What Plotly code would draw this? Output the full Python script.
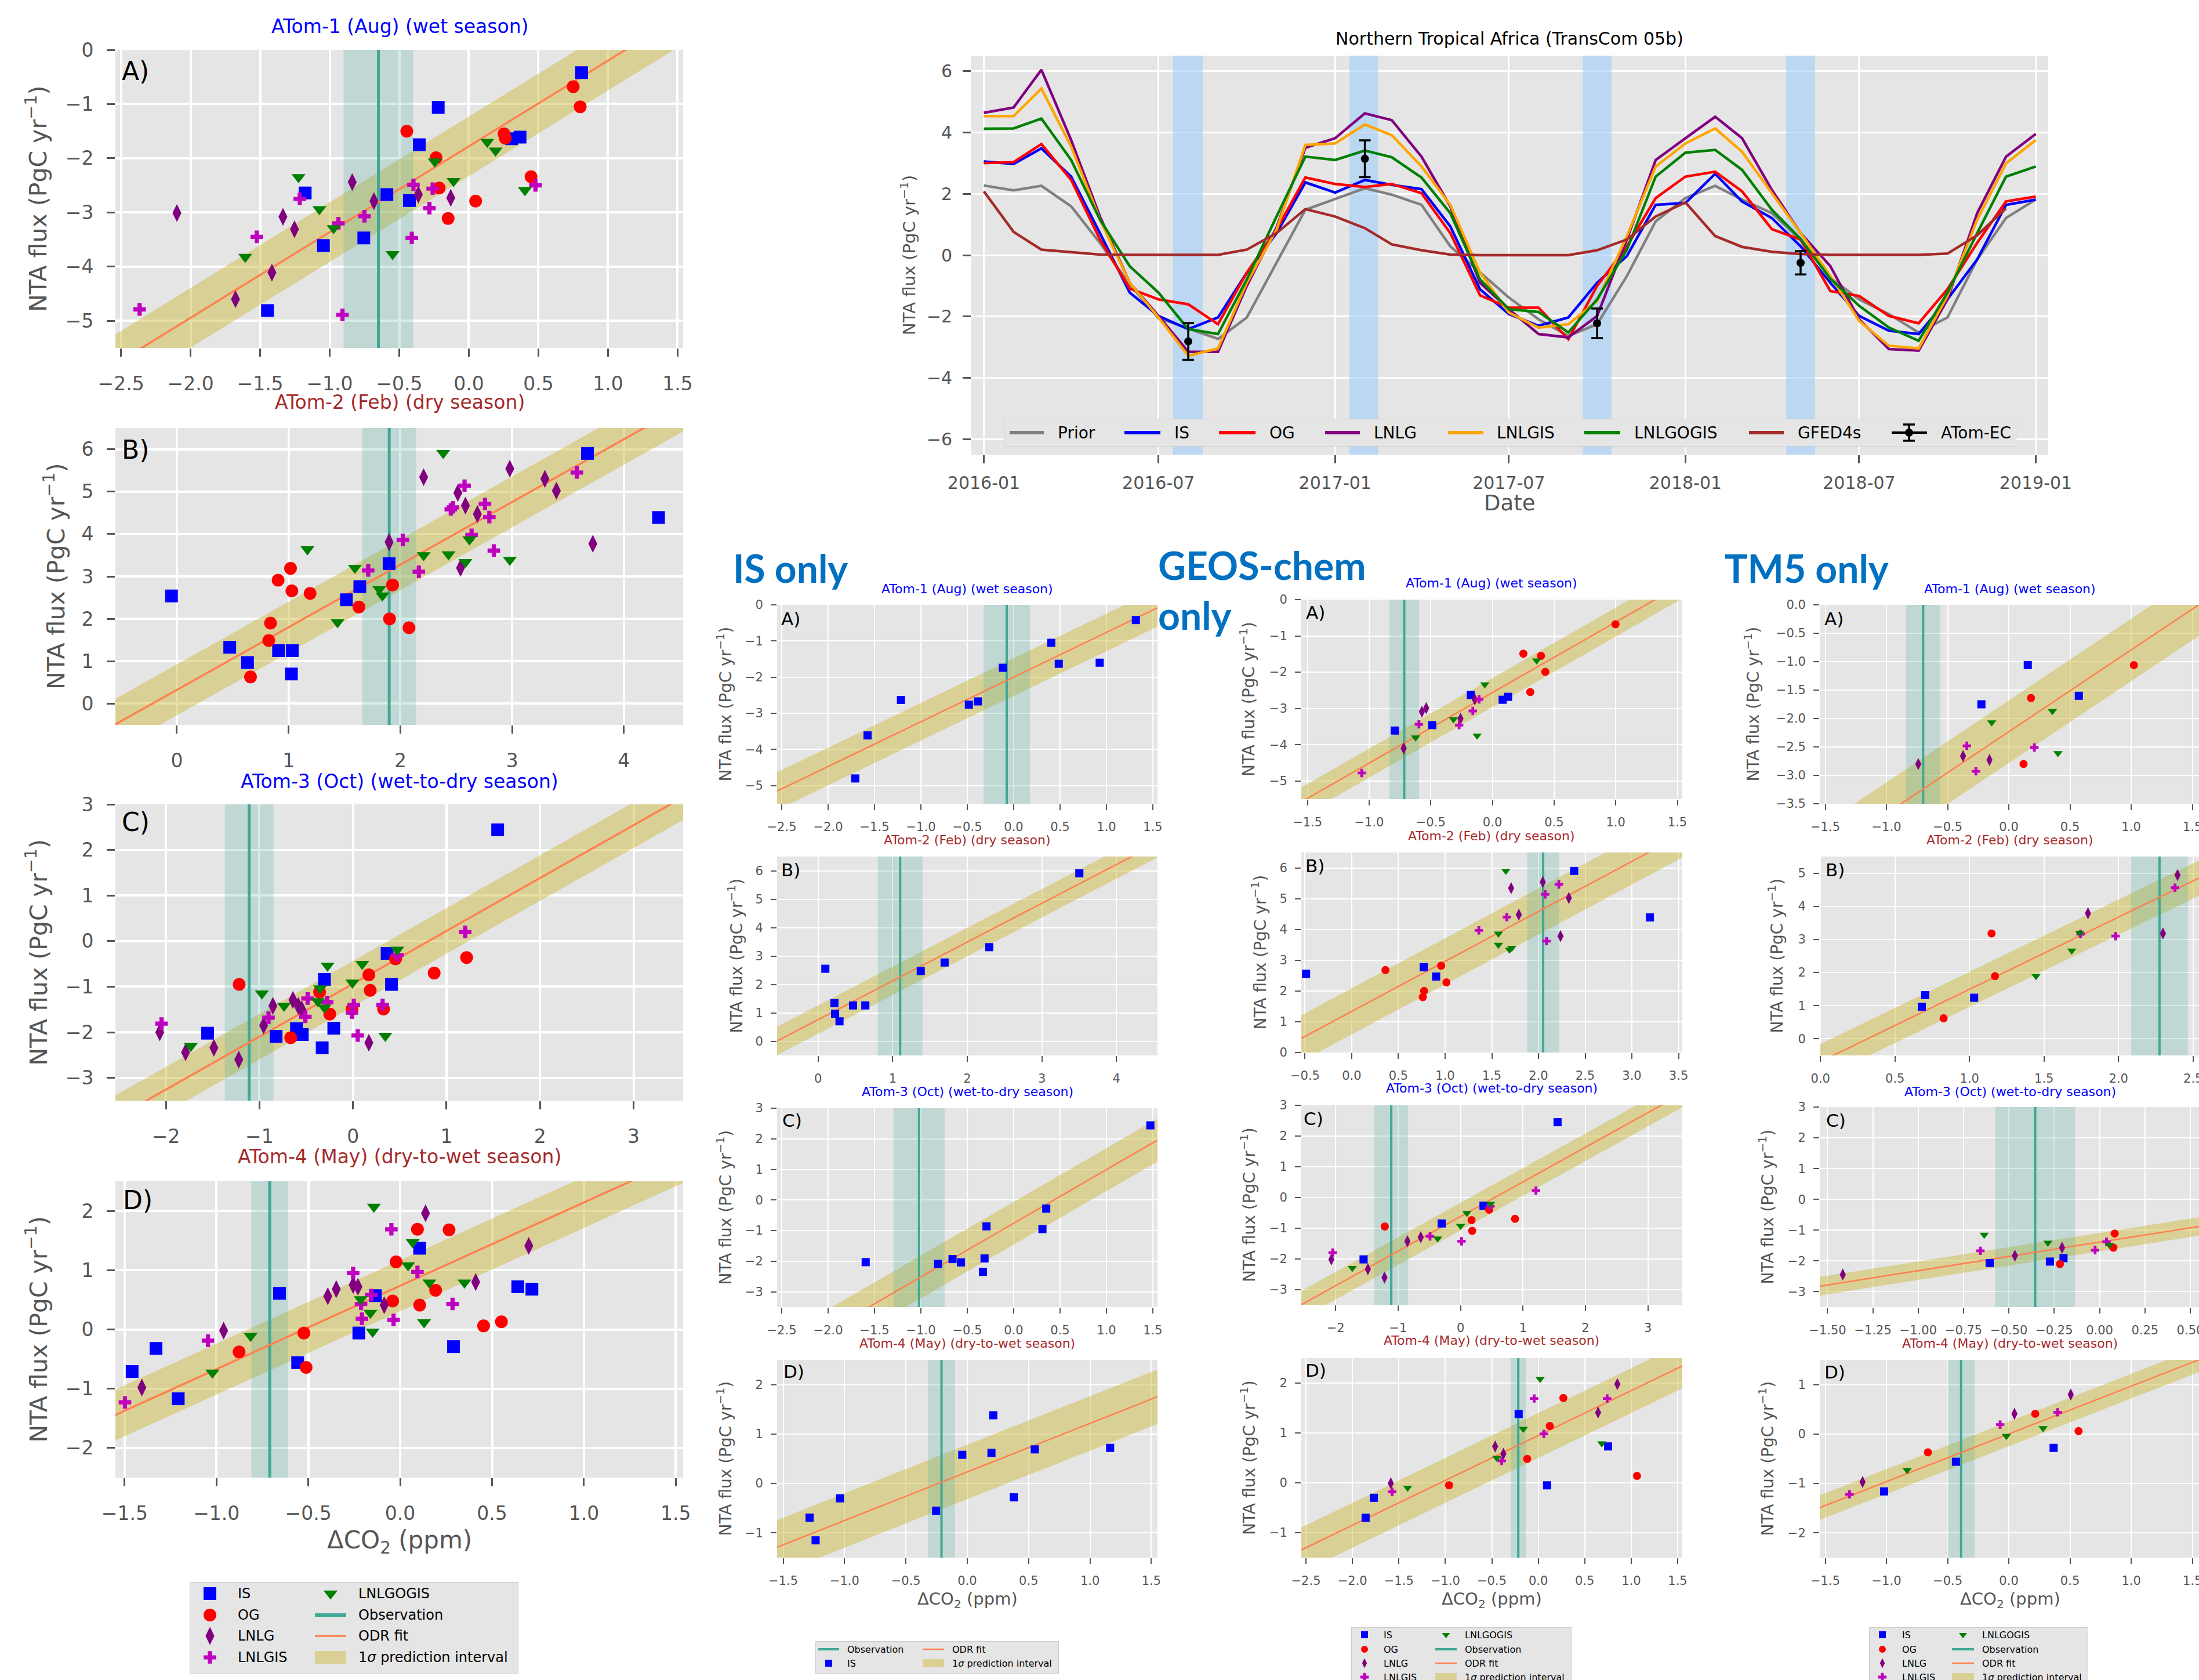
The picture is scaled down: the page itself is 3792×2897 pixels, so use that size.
import numpy as np
import pandas as pd
import plotly.graph_objects as go

W, H = 3792, 2897

# ============================ DATA ============================
# ---- time series (Northern Tropical Africa, monthly) ----
ts_dates = pd.date_range("2016-01-01", "2019-01-01", freq="MS")
prior = [2.27, 2.11, 2.26, 1.59, 0.40, -0.95, -2.05, -2.40, -2.73, -2.03, -0.25, 1.48, 1.83, 2.18, 1.97, 1.64,
         0.29, -0.57, -1.38, -2.09, -2.63, -2.25, -0.68, 1.10, 1.86, 2.26, 1.81, 1.37, 0.50, -0.74, -1.44, -1.92,
         -2.52, -2.03, -0.14, 1.21, 1.81]
ts_IS = [3.05, 2.97, 3.48, 2.56, 0.72, -1.22, -1.98, -2.41, -2.03, -0.57, 0.72, 2.37, 2.04, 2.45, 2.29, 2.15,
         0.94, -1.11, -1.92, -2.30, -2.03, -0.90, -0.03, 1.64, 1.70, 2.65, 1.75, 1.21, 0.29, -0.90, -1.98, -2.46,
         -2.57, -1.44, -0.14, 1.64, 1.81]
ts_OG = [3.00, 3.03, 3.62, 2.45, 0.51, -1.09, -1.44, -1.60, -2.25, -0.57, 0.83, 2.53, 2.32, 2.22, 2.32, 2.02,
         0.72, -1.31, -1.71, -1.71, -2.74, -1.00, 0.29, 1.86, 2.56, 2.72, 2.08, 0.85, 0.51, -1.17, -1.33, -1.98,
         -2.22, -1.11, 0.40, 1.75, 1.91]
ts_LNLG = [4.64, 4.81, 6.04, 3.75, 1.26, -0.90, -1.98, -3.15, -3.15, -1.00, 0.90, 3.50, 3.81, 4.62, 4.40, 3.21,
           1.59, -0.90, -1.76, -2.57, -2.68, -1.98, 0.51, 3.10, 3.81, 4.51, 3.81, 2.13, 0.72, -0.36, -2.09, -3.06,
           -3.11, -1.44, 1.37, 3.21, 3.95]
ts_LNLGIS = [4.53, 4.53, 5.43, 3.54, 1.16, -0.90, -2.03, -3.28, -3.04, -0.90, 0.83, 3.59, 3.64, 4.26, 3.91, 2.89,
             1.64, -0.57, -1.87, -2.36, -2.25, -1.50, 0.62, 2.89, 3.64, 4.13, 3.37, 2.02, 0.72, -0.68, -2.14, -2.95,
             -3.04, -1.33, 1.16, 2.99, 3.75]
ts_LNLGOGIS = [4.12, 4.13, 4.45, 3.10, 1.16, -0.36, -1.22, -2.41, -2.57, -0.79, 1.26, 3.21, 3.10, 3.41, 3.19, 2.53,
               1.37, -0.79, -1.76, -1.85, -2.52, -1.44, 0.18, 2.56, 3.34, 3.43, 2.78, 1.48, 0.53, -0.77, -1.65, -2.36,
               -2.79, -1.22, 0.72, 2.56, 2.89]
ts_GFED4s = [2.08, 0.76, 0.18, 0.10, 0.02, 0.01, 0.01, 0.01, 0.01, 0.18, 0.72, 1.50, 1.26, 0.88, 0.35, 0.16,
             0.02, 0.00, 0.00, 0.00, 0.00, 0.16, 0.51, 1.26, 1.72, 0.62, 0.27, 0.11, 0.04, 0.01, 0.01, 0.01,
             0.01, 0.05, 0.65, 1.53]
atom_dates = ["2016-08-01", "2017-02-01", "2017-10-01", "2018-05-01"]
atom_flux = [-2.81, 3.14, -2.22, -0.25]
atom_err = [0.60, 0.60, 0.48, 0.38]
atom_span_start = ["2016-07-16", "2017-01-16", "2017-09-16", "2018-04-16"]
atom_span_end = ["2016-08-16", "2017-02-15", "2017-10-16", "2018-05-16"]
ts_xticks = ["2016-01-01", "2016-07-01", "2017-01-01", "2017-07-01", "2018-01-01", "2018-07-01", "2019-01-01"]
ts_xlabels = ["2016-01", "2016-07", "2017-01", "2017-07", "2018-01", "2018-07", "2019-01"]
ts_yticks = [-6, -4, -2, 0, 2, 4, 6]

# ---- scatter panels: (dCO2, flux) pairs ----
# All models (large panels)
all_A_IS = [(0.81, -0.42), (-0.22, -1.06), (-0.356, -1.75), (0.307, -1.64), (0.368, -1.61), (-1.176, -2.64),
            (-0.589, -2.67), (-0.427, -2.78), (-1.045, -3.61), (-0.755, -3.47), (-1.447, -4.81)]
all_A_OG = [(-0.446, -1.50), (0.75, -0.68), (0.80, -1.05), (0.253, -1.55), (0.262, -1.63), (-0.235, -1.99),
            (-0.213, -2.55), (0.447, -2.34), (0.049, -2.79), (-0.149, -3.11)]
all_A_LNLG = [(-2.098, -3.01), (-0.838, -2.44), (-0.682, -2.79), (-0.363, -2.67), (-0.13, -2.73), (-1.336, -3.08),
              (-1.253, -3.31), (-1.415, -4.11), (-1.677, -4.60)]
all_A_LNLGIS = [(-2.366, -4.79), (-1.524, -3.45), (-1.215, -2.75), (-0.937, -3.20), (-0.75, -3.07), (-0.398, -2.49),
                (-0.26, -2.56), (-0.283, -2.92), (-0.41, -3.47), (-0.908, -4.89), (0.479, -2.50)]
all_A_LNLGOGIS = [(-1.224, -2.35), (-1.074, -2.94), (-0.972, -3.29), (-1.607, -3.82), (-0.548, -3.77),
                  (-0.245, -2.06), (-0.11, -2.42), (0.132, -1.70), (0.192, -1.86), (0.403, -2.59)]
all_B_IS = [(-0.048, 2.54), (0.473, 1.33), (0.632, 0.97), (0.91, 1.25), (1.033, 1.25), (1.025, 0.70), (1.517, 2.45),
            (1.637, 2.76), (1.899, 3.30), (3.674, 5.90), (4.31, 4.39)]
all_B_OG = [(1.017, 3.19), (0.906, 2.91), (1.029, 2.66), (1.192, 2.60), (0.838, 1.90), (0.822, 1.49), (0.659, 0.63),
            (1.629, 2.28), (1.93, 2.80), (1.903, 2.00), (2.077, 1.79)]
all_B_LNLG = [(2.208, 5.34), (2.979, 5.54), (2.514, 4.97), (2.582, 4.67), (2.689, 4.47), (3.293, 5.30),
              (3.396, 5.02), (1.899, 3.81), (2.538, 3.20), (3.722, 3.77)]
all_B_LNLGIS = [(2.574, 5.14), (2.451, 4.58), (2.47, 4.63), (2.757, 4.71), (2.796, 4.40), (2.637, 3.98),
                (2.022, 3.86), (2.836, 3.61), (1.712, 3.14), (2.165, 3.11), (3.579, 5.45)]
all_B_LNLGOGIS = [(2.383, 5.91), (1.168, 3.64), (1.593, 3.20), (1.811, 2.70), (1.839, 2.55), (1.438, 1.92),
                  (2.208, 3.50), (2.431, 3.52), (2.582, 3.34), (2.618, 3.87), (2.979, 3.39)]
all_C_IS = [(1.547, 2.44), (-1.554, -2.02), (-0.822, -2.09), (-0.604, -1.92), (-0.542, -2.05), (-0.205, -1.91),
            (-0.329, -2.34), (-0.305, -0.84), (0.365, -0.27), (0.412, -0.95)]
all_C_OG = [(-1.217, -0.95), (-0.666, -2.12), (-0.357, -1.12), (-0.248, -1.60), (-0.01, -1.49), (0.17, -0.74),
            (0.184, -1.08), (0.327, -1.49), (0.455, -0.39), (0.868, -0.70), (1.215, -0.36)]
all_C_LNLG = [(-2.066, -2.00), (-1.79, -2.44), (-1.487, -2.34), (-1.221, -2.60), (-0.955, -1.85), (-0.856, -1.42),
              (-0.642, -1.29), (-0.585, -1.42), (-0.547, -1.50), (0.17, -2.23)]
all_C_LNLGIS = [(-2.047, -1.81), (-0.903, -1.68), (-0.485, -1.26), (-0.509, -1.66), (-0.276, -1.34), (0.009, -1.40),
                (-0.01, -1.57), (0.051, -2.07), (0.317, -1.40), (0.474, -0.31), (1.20, 0.20)]
all_C_LNLGOGIS = [(-1.734, -2.30), (-0.974, -1.15), (-0.737, -1.42), (-0.272, -0.54), (-0.352, -1.04),
                  (-0.376, -1.32), (-0.305, -1.46), (-0.006, -0.91), (0.099, -0.50), (0.346, -2.08), (0.474, -0.19)]
all_D_IS = [(-1.459, -0.71), (-1.329, -0.32), (-1.208, -1.17), (-0.657, 0.61), (-0.558, -0.56), (-0.225, -0.06),
            (-0.135, 0.57), (0.106, 1.37), (0.29, -0.29), (0.64, 0.72), (0.717, 0.68)]
all_D_OG = [(-0.877, -0.38), (-0.524, -0.06), (-0.512, -0.64), (-0.041, 0.48), (-0.022, 1.14), (0.094, 1.69),
            (0.106, 0.41), (0.193, 0.66), (0.266, 1.68), (0.454, 0.06), (0.551, 0.13)]
all_D_LNLG = [(-1.406, -0.98), (-0.961, -0.02), (-0.394, 0.56), (-0.348, 0.68), (-0.256, 0.75), (-0.23, 0.72),
              (-0.087, 0.41), (0.138, 1.96), (0.411, 0.80), (0.70, 1.41)]
all_D_LNLGIS = [(-1.498, -1.23), (-1.046, -0.19), (-0.256, 0.95), (-0.213, 0.43), (-0.208, 0.18), (-0.157, 0.58),
                (-0.048, 1.69), (-0.036, 0.16), (0.094, 0.97), (0.285, 0.43)]
all_D_LNLGOGIS = [(-1.022, -0.73), (-0.814, -0.11), (-0.215, 0.51), (-0.162, 0.28), (-0.15, -0.04), (-0.143, 2.07),
                  (0.043, 1.08), (0.068, 1.47), (0.13, 0.12), (0.159, 0.79), (0.35, 0.79)]
obs_all = [-0.65, 1.90, -1.11, -0.71]
obs_err_all = [0.25, 0.24, 0.26, 0.10]
odr_slope_all = [1.582, 1.477, 1.160, 1.406]
odr_icpt_all = [-1.780, 0.326, -0.937, 0.737]
pi_all = [0.55, 0.60, 0.50, 0.43]

# IS only
is_A = [(-1.707, -4.80), (-1.575, -3.61), (-1.215, -2.63), (-0.483, -2.76), (-0.385, -2.67), (-0.117, -1.74),
        (0.405, -1.05), (0.486, -1.63), (0.927, -1.60), (1.317, -0.42)]
is_B = [(0.097, 2.55), (0.219, 1.34), (0.228, 0.97), (0.287, 0.70), (0.468, 1.26), (0.633, 1.26), (1.376, 2.47),
        (1.696, 2.77), (2.295, 3.31), (3.502, 5.91)]
is_C = [(-1.595, -2.03), (-0.815, -2.09), (-0.659, -1.93), (-0.568, -2.04), (-0.314, -1.91), (-0.331, -2.35),
        (-0.293, -0.86), (0.31, -0.95), (0.351, -0.28), (1.473, 2.44)]
is_D = [(-1.285, -0.69), (-1.236, -1.15), (-1.037, -0.30), (-0.254, -0.55), (-0.041, 0.58), (0.197, 0.62),
        (0.212, 1.38), (0.379, -0.28), (0.55, 0.69), (1.164, 0.72)]
obs_is = [-0.075, 1.10, -1.02, -0.21]
obs_err_is = [0.25, 0.30, 0.275, 0.11]
odr_slope_is = [1.236, 1.365, 1.754, 0.982]
odr_icpt_is = [-1.997, 0.760, -0.760, 0.233]
pi_is = [0.52, 0.50, 0.70, 0.55]

# GEOS-chem only
gc_A_IS = [(-0.791, -3.61), (-0.488, -3.46), (-0.175, -2.63), (0.083, -2.76), (0.127, -2.68)]
gc_A_OG = [(0.251, -1.49), (0.394, -1.55), (0.429, -1.99), (0.307, -2.55), (0.998, -0.68)]
gc_A_LNLG = [(-0.572, -3.09), (-0.537, -2.99), (-0.72, -4.10), (-0.259, -3.28), (-0.143, -2.75)]
gc_A_LNLGIS = [(-1.06, -4.78), (-0.596, -3.44), (-0.27, -3.46), (-0.159, -3.07), (-0.108, -2.75)]
gc_A_LNLGOGIS = [(-0.623, -3.80), (-0.316, -3.30), (-0.124, -3.75), (-0.062, -2.34), (0.359, -1.68)]
gc_B_IS = [(-0.489, 2.56), (0.771, 2.77), (0.904, 2.47), (2.382, 5.90), (3.193, 4.39)]
gc_B_OG = [(0.361, 2.68), (0.775, 2.00), (0.761, 1.80), (0.957, 2.82), (1.014, 2.28)]
gc_B_LNLG = [(1.707, 5.34), (2.046, 5.54), (1.789, 4.48), (2.325, 5.02), (2.236, 3.78)]
gc_B_LNLGIS = [(1.361, 3.97), (1.661, 4.40), (2.071, 5.14), (2.218, 5.46), (2.086, 3.62)]
gc_B_LNLGOGIS = [(1.65, 5.90), (1.571, 3.86), (1.571, 3.50), (1.689, 3.34), (1.714, 3.40)]
gc_C_IS = [(-1.553, -2.02), (-0.303, -0.85), (0.367, -0.27), (1.553, 2.45)]
gc_C_OG = [(-1.213, -0.95), (0.176, -0.74), (0.186, -1.09), (0.457, -0.40), (0.872, -0.70)]
gc_C_LNLG = [(-2.069, -2.02), (-1.484, -2.34), (-1.218, -2.61), (-0.851, -1.43), (-0.638, -1.30)]
gc_C_LNLGIS = [(-2.048, -1.80), (-0.489, -1.27), (0.016, -1.43), (0.479, -0.29), (1.207, 0.22)]
gc_C_LNLGOGIS = [(-1.734, -2.30), (-0.367, -1.34), (0.0, -0.93), (0.101, -0.51), (0.479, -0.21)]
gc_D_IS = [(-1.858, -0.70), (-1.769, -0.30), (-0.211, 1.38), (0.095, -0.05), (0.751, 0.73)]
gc_D_OG = [(-0.96, -0.05), (-0.119, 0.48), (0.124, 1.14), (0.27, 1.70), (1.062, 0.14)]
gc_D_LNLG = [(-1.587, -0.01), (-0.464, 0.73), (-0.375, 0.58), (0.644, 1.41), (0.851, 1.98)]
gc_D_LNLGIS = [(-1.573, -0.18), (-0.393, 0.44), (-0.044, 1.69), (0.06, 0.98), (0.741, 1.69)]
gc_D_LNLGOGIS = [(-1.406, -0.10), (-0.447, 0.50), (-0.161, 1.08), (0.02, 2.08), (0.684, 0.79)]
obs_gc = [-0.715, 2.05, -1.11, -0.215]
obs_err_gc = [0.12, 0.17, 0.27, 0.08]
odr_slope_gc = [1.944, 1.624, 1.128, 0.900]
odr_icpt_gc = [-2.564, 1.338, -0.622, 0.949]
pi_gc = [0.40, 0.75, 0.45, 0.45]

# TM5 only
tm_A_IS = [(-0.224, -1.75), (0.155, -1.06), (0.572, -1.60)]
tm_A_OG = [(0.181, -1.64), (0.12, -2.80), (1.022, -1.06)]
tm_A_LNLG = [(-0.74, -2.80), (-0.374, -2.66), (-0.158, -2.73)]
tm_A_LNLGIS = [(-0.343, -2.48), (-0.269, -2.93), (0.209, -2.51)]
tm_A_LNLGOGIS = [(-0.14, -2.07), (0.356, -1.87), (0.402, -2.61)]
tm_B_IS = [(0.68, 0.97), (0.703, 1.32), (1.031, 1.24)]
tm_B_OG = [(0.826, 0.62), (1.148, 3.18), (1.171, 1.89)]
tm_B_LNLG = [(1.795, 3.79), (2.298, 3.18), (2.396, 4.94)]
tm_B_LNLGIS = [(1.745, 3.16), (1.98, 3.10), (2.379, 4.56)]
tm_B_LNLGOGIS = [(1.446, 1.89), (1.686, 2.66), (1.740, 3.20)]
tm_C_IS = [(-0.606, -2.07), (-0.274, -2.02), (-0.199, -1.91)]
tm_C_OG = [(-0.219, -2.10), (0.083, -1.11), (0.076, -1.57)]
tm_C_LNLG = [(-1.416, -2.44), (-0.467, -1.83), (-0.207, -1.57)]
tm_C_LNLGIS = [(-0.657, -1.67), (-0.025, -1.65), (0.038, -1.38)]
tm_C_LNLGOGIS = [(-0.636, -1.15), (-0.285, -1.41), (0.054, -1.48)]
tm_D_IS = [(-1.019, -1.16), (-0.432, -0.56), (0.366, -0.28)]
tm_D_OG = [(-0.661, -0.37), (0.216, 0.41), (0.57, 0.06)]
tm_D_LNLG = [(-1.195, -0.97), (0.046, 0.41), (0.506, 0.80)]
tm_D_LNLGIS = [(-1.302, -1.22), (-0.071, 0.19), (0.399, 0.44)]
tm_D_LNLGOGIS = [(-0.831, -0.73), (-0.02, -0.04), (0.28, 0.12)]
obs_tm = [-0.70, 2.275, -0.355, -0.39]
obs_err_tm = [0.14, 0.19, 0.22, 0.11]
odr_slope_tm = [1.440, 2.180, 0.929, 0.965]
odr_icpt_tm = [-2.233, -0.686, -1.388, 0.003]
pi_tm = [0.55, 0.53, 0.30, 0.25]

# tick sets
XT_wide = [-2.5, -2.0, -1.5, -1.0, -0.5, 0.0, 0.5, 1.0, 1.5]
XT_narrow = [-1.5, -1.0, -0.5, 0.0, 0.5, 1.0, 1.5]
XT_B = [0, 1, 2, 3, 4]
XT_C = [-2, -1, 0, 1, 2, 3]
XT_gc_B = [-0.5, 0.0, 0.5, 1.0, 1.5, 2.0, 2.5, 3.0, 3.5]
XT_tm_B = [0.0, 0.5, 1.0, 1.5, 2.0, 2.5]
XT_tm_C = [-1.5, -1.25, -1.0, -0.75, -0.5, -0.25, 0.0, 0.25, 0.5]
YT_A = [-5, -4, -3, -2, -1, 0]
YT_tm_A = [-3.5, -3.0, -2.5, -2.0, -1.5, -1.0, -0.5, 0.0]
YT_B = [0, 1, 2, 3, 4, 5, 6]
YT_tm_B = [0, 1, 2, 3, 4, 5]
YT_C = [-3, -2, -1, 0, 1, 2, 3]
YT_D_all = [-2, -1, 0, 1, 2]
YT_D_small = [-1, 0, 1, 2]
YT_tm_D = [-2, -1, 0, 1]

# ============================ STYLE ============================
FONT = "DejaVu Sans"
TXT = "#555555"
BG = "#E5E5E5"
TITLE_BLUE = "#0000FF"
TITLE_BROWN = "#A52A2A"
HEAD_BLUE = "#0070C0"
OBS_C = "#40A896"
SPAN_C = "rgba(64,168,150,0.22)"
ODR_C = "#FF7F50"
BAND_C = "rgba(202,182,53,0.45)"
MODELS = ["IS", "OG", "LNLG", "LNLGIS", "LNLGOGIS"]
COLORS = {"IS": "#0000FF", "OG": "#FF0000", "LNLG": "#800080", "LNLGIS": "#BF00BF", "LNLGOGIS": "#008000"}
SYMBOLS = {"IS": "square", "OG": "circle", "LNLG": "diamond-tall", "LNLGIS": "cross", "LNLGOGIS": "triangle-down"}
SIZE_BIG = {"IS": 22, "OG": 22, "LNLG": 22, "LNLGIS": 18, "LNLGOGIS": 21}
SIZE_SMALL = {"IS": 14, "OG": 14, "LNLG": 15, "LNLGIS": 12, "LNLGOGIS": 14}
TS_STYLE = [("Prior", prior, "#808080"), ("IS", ts_IS, "#0000FF"), ("OG", ts_OG, "#FF0000"),
            ("LNLG", ts_LNLG, "#800080"), ("LNLGIS", ts_LNLGIS, "#FFA500"),
            ("LNLGOGIS", ts_LNLGOGIS, "#008000"), ("GFED4s", ts_GFED4s, "#A52A2A")]

fig = go.Figure()
lay = {}
annotations = []
shapes = []


def fmt_ticks(vals, dec):
    return [f"{v:.{dec}f}".replace("-", "\u2212") for v in vals]


def px(x):
    return x / W


def py(y):
    return 1 - y / H


def ann(text, x, y, size, color, xanchor="center", yanchor="middle", angle=0, family=FONT, align="center"):
    annotations.append(dict(text=text, x=px(x), y=py(y), xref="paper", yref="paper", showarrow=False,
                            font=dict(family=family, size=size, color=color), xanchor=xanchor,
                            yanchor=yanchor, textangle=angle, align=align))


def make_axes(n, box, xr, yr, xt, xd, yt, yd, big):
    s = "" if n == 1 else str(n)
    x0, x1, y0, y1 = box
    base = dict(showgrid=True, gridcolor="white", gridwidth=3.5 if big else 2, zeroline=False,
                showline=False, ticks="outside", ticklen=14 if big else 10, tickwidth=3 if big else 2,
                tickcolor=TXT, tickfont=dict(family=FONT, size=33 if big else 21, color=TXT),
                tickmode="array", fixedrange=True, ticklabeloverflow="allow", automargin=False)
    lay["xaxis" + s] = dict(base, domain=[px(x0), min(px(x1), 1.0)], range=xr, anchor="y" + s,
                            tickvals=xt, ticktext=fmt_ticks(xt, xd), ticklabelstandoff=18 if big else 11)
    lay["yaxis" + s] = dict(base, domain=[py(y1), py(y0)], range=yr, anchor="x" + s,
                            tickvals=yt, ticktext=fmt_ticks(yt, yd), ticklabelstandoff=16 if big else 9)
    return "x" + s, "y" + s


def scatter_panel(n, box, xr, yr, xt, xd, yt, yd, big, series, obs, oerr, slope, icpt, hw):
    xa, ya = make_axes(n, box, xr, yr, xt, xd, yt, yd, big)
    xs = np.array(xr, dtype=float)
    yl = icpt + slope * xs
    common = dict(xaxis=xa, yaxis=ya, hoverinfo="skip", showlegend=False)
    fig.add_trace(go.Scatter(x=[xs[0], xs[1], xs[1], xs[0], xs[0]],
                             y=[yl[0] + hw, yl[1] + hw, yl[1] - hw, yl[0] - hw, yl[0] + hw],
                             mode="lines", fill="toself", fillcolor=BAND_C, line=dict(width=0), **common))
    fig.add_trace(go.Scatter(x=[obs - oerr, obs + oerr, obs + oerr, obs - oerr, obs - oerr],
                             y=[yr[0], yr[0], yr[1], yr[1], yr[0]],
                             mode="lines", fill="toself", fillcolor=SPAN_C, line=dict(width=0), **common))
    fig.add_trace(go.Scatter(x=[obs, obs], y=list(yr), mode="lines",
                             line=dict(color=OBS_C, width=5 if big else 4), **common))
    fig.add_trace(go.Scatter(x=list(xs), y=list(yl), mode="lines",
                             line=dict(color=ODR_C, width=3.5 if big else 2.5), **common))
    sizes = SIZE_BIG if big else SIZE_SMALL
    for m, pts in zip(MODELS, series):
        if not pts:
            continue
        fig.add_trace(go.Scatter(x=[p[0] for p in pts], y=[p[1] for p in pts], mode="markers",
                                 marker=dict(symbol=SYMBOLS[m], color=COLORS[m], size=sizes[m],
                                             line=dict(width=0)), **common))


YLAB = "NTA flux (PgC yr<sup>\u22121</sup>)"
T_A = "ATom-1 (Aug) (wet season)"
X_TITLES = ["ATom-2 (Feb) (dry season)", "ATom-3 (Oct) (wet-to-dry season)",
            "ATom-4 (May) (dry-to-wet season)", "\u0394CO<sub>2</sub> (ppm)"]
X_COLORS = [TITLE_BROWN, TITLE_BLUE, TITLE_BROWN, TXT]
LETTERS = ["A)", "B)", "C)", "D)"]

# ----------------- large "all models" column -----------------
big_boxes = [(199, 1178, 86, 600), (199, 1178, 738, 1250), (199, 1178, 1387, 1898), (199, 1178, 2037, 2548)]
big_x = [[-2.54, 1.54], [-0.55, 4.53], [-2.54, 3.53], [-1.55, 1.54]]
big_y = [[-5.5, 0], [-0.5, 6.5], [-3.5, 3.0], [-2.5, 2.5]]
big_xt = [(XT_wide, 1), (XT_B, 0), (XT_C, 0), (XT_narrow, 1)]
big_yt = [(YT_A, 0), (YT_B, 0), (YT_C, 0), (YT_D_all, 0)]
big_series = [[all_A_IS, all_A_OG, all_A_LNLG, all_A_LNLGIS, all_A_LNLGOGIS],
              [all_B_IS, all_B_OG, all_B_LNLG, all_B_LNLGIS, all_B_LNLGOGIS],
              [all_C_IS, all_C_OG, all_C_LNLG, all_C_LNLGIS, all_C_LNLGOGIS],
              [all_D_IS, all_D_OG, all_D_LNLG, all_D_LNLGIS, all_D_LNLGOGIS]]
for i in range(4):
    scatter_panel(1 + i, big_boxes[i], big_x[i], big_y[i], big_xt[i][0], big_xt[i][1], big_yt[i][0],
                  big_yt[i][1], True, big_series[i], obs_all[i], obs_err_all[i], odr_slope_all[i],
                  odr_icpt_all[i], pi_all[i])
ann(T_A, 689, 45, 33, TITLE_BLUE)
for i, yy in enumerate([694, 1347, 1994, 2658]):
    ann(X_TITLES[i], 689, yy, 42 if i == 3 else 33, X_COLORS[i])
for i, xx in enumerate([63, 94, 63, 63]):
    b = big_boxes[i]
    ann(YLAB, xx, (b[2] + b[3]) / 2, 41, TXT, angle=-90)
for i, (lx, ly) in enumerate([(208, 123), (208, 775), (208, 1418), (210, 2069)]):
    ann(LETTERS[i], lx, ly, 44, "black", xanchor="left")

# ----------------- time series -----------------
lay["xaxis5"] = dict(type="date", domain=[px(1675), px(3532)], range=["2015-12-19", "2019-01-14"], anchor="y5",
                     tickmode="array", tickvals=ts_xticks, ticktext=ts_xlabels, showgrid=True, gridcolor="white",
                     gridwidth=2.5, zeroline=False, showline=False, ticks="outside", ticklen=14, tickwidth=3,
                     tickcolor=TXT, tickfont=dict(family=FONT, size=30, color=TXT), ticklabelstandoff=8,
                     fixedrange=True, automargin=False)
lay["yaxis5"] = dict(domain=[py(784), py(96)], range=[-6.5, 6.5], anchor="x5", tickmode="array",
                     tickvals=ts_yticks, ticktext=fmt_ticks(ts_yticks, 0), showgrid=True, gridcolor="white",
                     gridwidth=2.5, zeroline=False, showline=False, ticks="outside", ticklen=14, tickwidth=3,
                     tickcolor=TXT, tickfont=dict(family=FONT, size=30, color=TXT), ticklabelstandoff=12,
                     fixedrange=True, automargin=False)
for s0, s1 in zip(atom_span_start, atom_span_end):
    fig.add_trace(go.Scatter(x=[s0, s1, s1, s0, s0], y=[-6.5, -6.5, 6.5, 6.5, -6.5], mode="lines", fill="toself",
                             fillcolor="rgba(160,205,250,0.6)", line=dict(width=0), xaxis="x5", yaxis="y5",
                             hoverinfo="skip", showlegend=False))
for name, vals, col in TS_STYLE:
    fig.add_trace(go.Scatter(x=ts_dates[:len(vals)], y=vals, mode="lines", name=name,
                             line=dict(color=col, width=4.5), xaxis="x5", yaxis="y5", showlegend=False))
fig.add_trace(go.Scatter(x=atom_dates, y=atom_flux, mode="markers", name="ATom-EC",
                         marker=dict(color="black", size=14),
                         error_y=dict(type="data", array=atom_err, color="black", thickness=3.5, width=10),
                         xaxis="x5", yaxis="y5", showlegend=False))
ann("Northern Tropical Africa (TransCom 05b)", 2603, 66, 30, "black")
ann(YLAB, 1566, 440, 29, TXT, angle=-90)
ann("Date", 2603, 867, 37, TXT)


# ----------------- small columns -----------------
def small_column(n0, x0, x1, tops, xranges, yranges, xts, yts, series, obs, oerr, slope, icpt, hw,
                 cx, title_y, xt_y, ylab_x, letters):
    for i in range(4):
        box = (x0, x1, tops[i][0], tops[i][1])
        scatter_panel(n0 + i, box, xranges[i], yranges[i], xts[i][0], xts[i][1], yts[i][0], yts[i][1], False,
                      series[i], obs[i], oerr[i], slope[i], icpt[i], hw[i])
        ann(X_TITLES[i], cx, xt_y[i], 29 if i == 3 else 22, X_COLORS[i])
        ann(YLAB, ylab_x[i], (tops[i][0] + tops[i][1]) / 2, 28, TXT, angle=-90)
        ann(LETTERS[i], letters[i][0], letters[i][1], 31, "black", xanchor="left")
    ann(T_A, cx, title_y, 22, TITLE_BLUE)


small_column(6, 1340, 1996, [(1043, 1386), (1477, 1820), (1911, 2254), (2345, 2686)],
             [[-2.55, 1.55], [-0.55, 4.55], [-2.55, 1.55], [-1.55, 1.55]],
             [[-5.5, 0], [-0.5, 6.5], [-3.5, 3.0], [-1.5, 2.5]],
             [(XT_wide, 1), (XT_B, 0), (XT_wide, 1), (XT_narrow, 1)],
             [(YT_A, 0), (YT_B, 0), (YT_C, 0), (YT_D_small, 0)],
             [[is_A, [], [], [], []], [is_B, [], [], [], []], [is_C, [], [], [], []], [is_D, [], [], [], []]],
             obs_is, obs_err_is, odr_slope_is, odr_icpt_is, pi_is,
             1668, 1015, [1448, 1882, 2316, 2759], [1250, 1269, 1250, 1250],
             [(1345, 1067), (1345, 1500), (1347, 1932), (1349, 2365)])

small_column(10, 2244, 2901, [(1034, 1378), (1470, 1815), (1906, 2250), (2342, 2686)],
             [[-1.55, 1.54], [-0.54, 3.54], [-2.55, 3.55], [-2.55, 1.55]],
             [[-5.5, 0], [0, 6.5], [-3.5, 3.0], [-1.5, 2.5]],
             [(XT_narrow, 1), (XT_gc_B, 1), (XT_C, 0), (XT_wide, 1)],
             [(YT_A, 0), (YT_B, 0), (YT_C, 0), (YT_D_small, 0)],
             [[gc_A_IS, gc_A_OG, gc_A_LNLG, gc_A_LNLGIS, gc_A_LNLGOGIS],
              [gc_B_IS, gc_B_OG, gc_B_LNLG, gc_B_LNLGIS, gc_B_LNLGOGIS],
              [gc_C_IS, gc_C_OG, gc_C_LNLG, gc_C_LNLGIS, gc_C_LNLGOGIS],
              [gc_D_IS, gc_D_OG, gc_D_LNLG, gc_D_LNLGIS, gc_D_LNLGOGIS]],
             obs_gc, obs_err_gc, odr_slope_gc, odr_icpt_gc, pi_gc,
             2572, 1005, [1441, 1876, 2311, 2759], [2152, 2172, 2152, 2152],
             [(2250, 1056), (2249, 1493), (2246, 1929), (2249, 2363)])

small_column(14, 3138, 3792, [(1043, 1386), (1477, 1820), (1909, 2254), (2345, 2686)],
             [[-1.545, 1.554], [-0.005, 2.54], [-1.543, 0.548], [-1.545, 1.554]],
             [[-3.5, 0], [-0.5, 5.5], [-3.5, 3.0], [-2.5, 1.5]],
             [(XT_narrow, 1), (XT_tm_B, 1), (XT_tm_C, 2), (XT_narrow, 1)],
             [(YT_tm_A, 1), (YT_tm_B, 0), (YT_C, 0), (YT_tm_D, 0)],
             [[tm_A_IS, tm_A_OG, tm_A_LNLG, tm_A_LNLGIS, tm_A_LNLGOGIS],
              [tm_B_IS, tm_B_OG, tm_B_LNLG, tm_B_LNLGIS, tm_B_LNLGOGIS],
              [tm_C_IS, tm_C_OG, tm_C_LNLG, tm_C_LNLGIS, tm_C_LNLGOGIS],
              [tm_D_IS, tm_D_OG, tm_D_LNLG, tm_D_LNLGIS, tm_D_LNLGOGIS]],
             obs_tm, obs_err_tm, odr_slope_tm, odr_icpt_tm, pi_tm,
             3466, 1015, [1448, 1882, 2316, 2759], [3022, 3063, 3047, 3047],
             [(3144, 1067), (3146, 1500), (3147, 1932), (3144, 2366)])

# column headers
ann("<b>IS only</b>", 1262, 980, 66, HEAD_BLUE, xanchor="left", family="Lato", align="left")
ann("<b>GEOS-chem<br>only</b>", 1995, 1018, 66, HEAD_BLUE, xanchor="left", family="Lato", align="left")
ann("<b>TM5 only</b>", 2972, 980, 66, HEAD_BLUE, xanchor="left", family="Lato", align="left")


# ----------------- legends (drawn on pixel-space helper axes) -----------------
def legend_axes(n, x0, x1, y0, y1):
    s = str(n)
    yb = min(y1, H)
    lay["xaxis" + s] = dict(domain=[px(x0), px(x1)], range=[x0, x1], visible=False, fixedrange=True,
                            anchor="y" + s, automargin=False)
    lay["yaxis" + s] = dict(domain=[py(yb), py(y0)], range=[yb, y0], visible=False, fixedrange=True,
                            anchor="x" + s, automargin=False)
    shapes.append(dict(type="rect", xref="x" + s, yref="y" + s, x0=x0, x1=x1, y0=y0, y1=y1, layer="below",
                       fillcolor=BG, line=dict(color="#CCCCCC", width=2)))
    return "x" + s, "y" + s


def lg_marker(ax, m, x, y, size):
    fig.add_trace(go.Scatter(x=[x], y=[y], mode="markers", xaxis=ax[0], yaxis=ax[1], hoverinfo="skip",
                             showlegend=False, marker=dict(symbol=SYMBOLS[m], color=COLORS[m], size=size)))


def lg_line(ax, xa_, xb_, y, color, width):
    fig.add_trace(go.Scatter(x=[xa_, xb_], y=[y, y], mode="lines", xaxis=ax[0], yaxis=ax[1], hoverinfo="skip",
                             showlegend=False, line=dict(color=color, width=width)))


def lg_patch(ax, xa_, xb_, y, hh):
    fig.add_trace(go.Scatter(x=[xa_, xb_, xb_, xa_, xa_], y=[y - hh, y - hh, y + hh, y + hh, y - hh],
                             mode="lines", fill="toself", fillcolor=BAND_C, line=dict(width=0),
                             xaxis=ax[0], yaxis=ax[1], hoverinfo="skip", showlegend=False))


def lg_text(text, x, y, size):
    ann(text, x, y, size, "black", xanchor="left", align="left")


# big legend
axL = legend_axes(18, 327, 894, 2728, 2887)
rows = [2748, 2785, 2821, 2858]
for m, r in zip(MODELS[:4], rows):
    lg_marker(axL, m, 362, r, SIZE_BIG[m])
    lg_text(m, 408, r, 24)
lg_marker(axL, "LNLGOGIS", 570, rows[0], SIZE_BIG["LNLGOGIS"])
lg_text("LNLGOGIS", 616, rows[0], 24)
lg_line(axL, 543, 597, rows[1], OBS_C, 6)
lg_text("Observation", 616, rows[1], 24)
lg_line(axL, 543, 597, rows[2], ODR_C, 3.5)
lg_text("ODR fit", 616, rows[2], 24)
lg_patch(axL, 543, 597, rows[3], 11)
lg_text("1<i>\u03c3</i> prediction interval", 616, rows[3], 24)

# time series legend
axT = legend_axes(19, 1731, 3477, 722, 770)
ts_leg = [(1741, 1800, 1822), (1939, 2001, 2023), (2102, 2165, 2187), (2285, 2345, 2367),
          (2497, 2558, 2579), (2732, 2794, 2816), (3016, 3076, 3098)]
for (name, vals, col), (g0, g1, tx) in zip(TS_STYLE, ts_leg):
    lg_line(axT, g0, g1, 746, col, 6)
    lg_text(name, tx, 746, 28)
lg_line(axT, 3262, 3323, 746, "black", 4)
fig.add_trace(go.Scatter(x=[3292], y=[746], mode="markers", xaxis=axT[0], yaxis=axT[1], hoverinfo="skip",
                         showlegend=False, marker=dict(color="black", size=14),
                         error_y=dict(type="constant", value=14, color="black", thickness=3.5, width=10)))
lg_text("ATom-EC", 3345, 746, 28)

# IS legend
axI = legend_axes(20, 1406, 1826, 2830, 2886)
lg_line(axI, 1411, 1447, 2844, OBS_C, 4)
lg_text("Observation", 1459, 2844, 16)
lg_marker(axI, "IS", 1429, 2868, 12)
lg_text("IS", 1459, 2868, 16)
lg_line(axI, 1591, 1628, 2844, ODR_C, 2.5)
lg_text("ODR fit", 1640, 2844, 16)
lg_patch(axI, 1591, 1628, 2868, 7)
lg_text("1<i>\u03c3</i> prediction interval", 1640, 2868, 16)


def model_legend(n, x0, x1, c1, t1, g0, g1, t2):
    ax = legend_axes(n, x0, x1, 2806, 2912)
    rr = [2819, 2844, 2868, 2892]
    for m, r in zip(MODELS[:4], rr):
        lg_marker(ax, m, c1, r, 12)
        lg_text(m, t1, r, 16)
    lg_marker(ax, "LNLGOGIS", (g0 + g1) / 2, rr[0], 12)
    lg_text("LNLGOGIS", t2, rr[0], 16)
    lg_line(ax, g0, g1, rr[1], OBS_C, 4)
    lg_text("Observation", t2, rr[1], 16)
    lg_line(ax, g0, g1, rr[2], ODR_C, 2.5)
    lg_text("ODR fit", t2, rr[2], 16)
    lg_patch(ax, g0, g1, rr[3], 7)
    lg_text("1<i>\u03c3</i> prediction interval", t2, rr[3], 16)


model_legend(21, 2330, 2710, 2353, 2384, 2475, 2512, 2524)
model_legend(22, 3223, 3601, 3246, 3278, 3366, 3404, 3416)

fig.update_layout(template="none", width=W, height=H, margin=dict(l=0, r=0, t=0, b=0, pad=0), autosize=False,
                  paper_bgcolor="white", plot_bgcolor=BG, showlegend=False,
                  font=dict(family=FONT, color=TXT), annotations=annotations, shapes=shapes, **lay)
fig.write_html("out.html")
